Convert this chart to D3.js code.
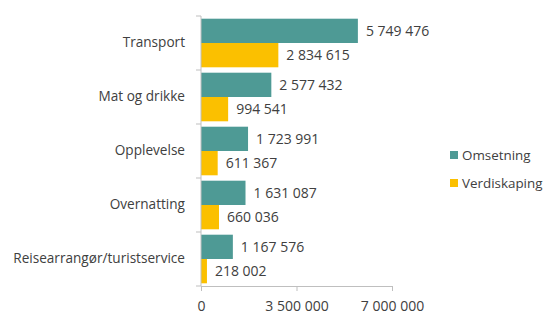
<!DOCTYPE html>
<html>
<head>
<meta charset="utf-8">
<script src="https://cdn.jsdelivr.net/npm/d3@7"></script>
<style>
  body { margin: 0; background: #fff; }
  text { font-family: "Open Sans", Lato, sans-serif; fill: #404040; }
</style>
</head>
<body>
<div id="chart"></div>
<script>
const categories = [
    "Transport",
    "Mat og drikke",
    "Opplevelse",
    "Overnatting",
    "Reisearrangør/turistservice"
]
const seriesNames = ["Omsetning", "Verdiskaping"]
const omsetning = [5749476, 2577432, 1723991, 1631087, 1167576]
const verdiskaping = [2834615, 994541, 611367, 660036, 218002]
const xTicks = [0, 3500000, 7000000]

const colors = ["#4E9A95", "#FBC000"]

const width = 547,
    height = 316,
    marginLeft = 201,
    marginTop = 16,
    plotRight = 392,
    plotBottom = 286

// numbers with a space as thousands separator
const fmt = d => d3.format(",")(d).replace(/,/g, " ")

const svg = d3.select("#chart").append("svg")
    .attr("width", width)
    .attr("height", height)

const x = d3.scaleLinear([0, 7000000], [marginLeft, plotRight])
const y = d3.scaleBand(categories, [marginTop, plotBottom]).paddingInner(0.1).paddingOuter(0.05)
const ySub = d3.scaleBand(seriesNames, [0, y.bandwidth()])

const series = [omsetning, verdiskaping]

// bars + value labels
series.forEach((vals, s) => {
    svg.append("g")
        .attr("fill", colors[s])
        .selectAll("rect")
        .data(categories)
        .join("rect")
        .attr("x", x(0))
        .attr("y", d => y(d) + ySub(seriesNames[s]))
        .attr("width", (d, i) => x(vals[i]) - x(0))
        .attr("height", ySub.bandwidth())

    svg.append("g")
        .selectAll("text")
        .data(categories)
        .join("text")
        .attr("x", (d, i) => x(vals[i]) + 8)
        .attr("y", d => y(d) + ySub(seriesNames[s]) + ySub.bandwidth() / 2)
        .attr("dy", "0.35em")
        .style("font-size", "14px")
        .text((d, i) => fmt(vals[i]))
})

// y axis (category)
const yAxisScale = d3.scaleBand(categories, [marginTop, plotBottom])
svg.append("g")
    .attr("transform", `translate(${marginLeft},0)`)
    .call(d3.axisLeft(y).tickSize(0).tickPadding(16))
    .call(g => g.select(".domain").attr("d", `M0,${marginTop}V${plotBottom}`).attr("stroke", "#bfbfbf"))
    .call(g => g.selectAll(".tick text").style("font-size", "13.6px").attr("font-family", null))

// separators between categories
svg.append("g")
    .attr("stroke", "#bfbfbf")
    .selectAll("line")
    .data(d3.range(categories.length + 1))
    .join("line")
    .attr("x1", marginLeft - 5)
    .attr("x2", marginLeft)
    .attr("y1", i => marginTop + i * yAxisScale.step())
    .attr("y2", i => marginTop + i * yAxisScale.step())

// x axis
svg.append("g")
    .attr("transform", `translate(0,${plotBottom})`)
    .call(d3.axisBottom(x).tickValues(xTicks).tickFormat(fmt).tickSize(5).tickPadding(10))
    .call(g => g.selectAll(".domain, .tick line").attr("stroke", "#bfbfbf"))
    .call(g => g.selectAll(".tick text").style("font-size", "14px").attr("font-family", null))

// legend
const legend = svg.append("g")
    .selectAll("g")
    .data(seriesNames)
    .join("g")
    .attr("transform", (d, i) => `translate(450,${155 + i * 28})`)

legend.append("rect")
    .attr("y", -4)
    .attr("width", 8)
    .attr("height", 8)
    .attr("fill", (d, i) => colors[i])

legend.append("text")
    .attr("x", 12)
    .attr("dy", "0.35em")
    .style("font-size", "13.4px")
    .text(d => d)
</script>
</body>
</html>
